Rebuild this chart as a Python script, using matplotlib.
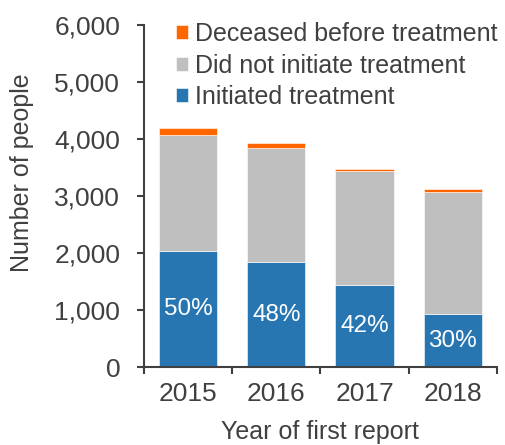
import numpy as np
import matplotlib.pyplot as plt
from matplotlib.ticker import FuncFormatter

# Data
years = ['2015', '2016', '2017', '2018']
initiated = [2035, 1842, 1433, 930]
not_initiated = [2040, 2000, 2006, 2146]
deceased = [123, 88, 35, 41]
pct_labels = ['50%', '48%', '42%', '30%']

c_init = '#2776B2'
c_not = '#BFBFBF'
c_dec = '#FF6600'
txt = '#404040'

plt.rcParams['font.family'] = ['Liberation Sans', 'DejaVu Sans']

fig = plt.figure(figsize=(5.05, 4.45), dpi=100)
ax = fig.add_axes([0.285, 0.175, 0.699, 0.769])

x = np.arange(len(years))
w = 0.66
init = np.array(initiated)
notin = np.array(not_initiated)
dec = np.array(deceased)

ax.bar(x, init, w, color=c_init, edgecolor='white', linewidth=0.4, label='Initiated treatment', zorder=2)
ax.bar(x, notin, w, bottom=init, color=c_not, edgecolor='white', linewidth=0.4, label='Did not initiate treatment', zorder=2)
ax.bar(x, dec, w, bottom=init + notin, color=c_dec, edgecolor='white', linewidth=0.4, label='Deceased before treatment', zorder=2)

# share of people who initiated treatment, written inside the blue bars
for xi, h, lab in zip(x, init, pct_labels):
    ax.text(xi, h / 2, lab, ha='center', va='center', color='white', fontsize=17.5)

ax.set_xlim(-0.5, 3.5)
ax.set_ylim(0, 6000)
ax.set_yticks(range(0, 6001, 1000))
ax.yaxis.set_major_formatter(FuncFormatter(lambda v, p: f'{int(v):,}'))
ax.set_xticks(x)
ax.set_xticklabels(years)
ax.set_xticks(np.arange(-0.5, 3.6, 1), minor=True)

ax.tick_params(axis='x', which='major', length=0, pad=11, labelsize=19, colors=txt)
ax.tick_params(axis='x', which='minor', length=5, width=1.5, color=txt, direction='out')
ax.tick_params(axis='y', length=5, width=1.5, pad=12, labelsize=19, colors=txt)

for s in ['top', 'right']:
    ax.spines[s].set_visible(False)
for s in ['left', 'bottom']:
    ax.spines[s].set_color(txt)
    ax.spines[s].set_linewidth(1.5)

ax.set_ylabel('Number of people', fontsize=18, color=txt)
ax.yaxis.set_label_coords(-0.312, 0.567)
ax.set_xlabel('Year of first report', fontsize=18, color=txt)
ax.xaxis.set_label_coords(0.5, -0.155)

handles, labels = ax.get_legend_handles_labels()
leg = ax.legend(handles[::-1], labels[::-1], loc='upper left', bbox_to_anchor=(0.062, 1.0375),
                frameon=False, fontsize=18, handlelength=0.5, handleheight=0.5,
                handletextpad=0.25, labelspacing=0.3, borderaxespad=0)
for t in leg.get_texts():
    t.set_color(txt)

fig.savefig('out.png', dpi=100)
